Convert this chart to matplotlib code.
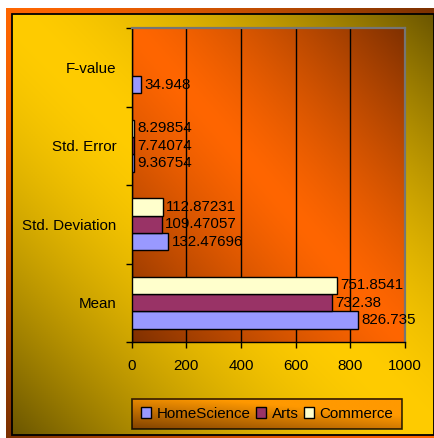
import matplotlib
matplotlib.use("Agg")
import matplotlib.pyplot as plt
import numpy as np
from matplotlib.colors import to_rgb

categories = ["Mean", "Std. Deviation", "Std. Error", "F-value"]
series_names = ["HomeScience", "Arts", "Commerce"]
home_science = [826.735, 132.47696, 9.36754, 34.948]
arts = [732.38, 109.47057, 7.74074, None]
commerce = [751.8541, 112.87231, 8.29854, None]
x_ticks = [0, 200, 400, 600, 800, 1000]

colors = ["#9999FF", "#993366", "#FFFFCC"]

plt.rcParams["font.family"] = ["Liberation Sans", "DejaVu Sans"]
FS = 10.9
W, H = 435, 438


def gradient(light, dark, n=200, mode="diag", power=1.4):
    u, v = np.meshgrid(np.linspace(0, 1, n), np.linspace(0, 1, n))
    if mode == "diag":
        t = np.abs(u - v) ** power
    else:
        t = np.clip(v * 0.8 + (1 - u) * 0.6 - 0.45, 0, 1)
    a = np.array(to_rgb(light))
    b = np.array(to_rgb(dark))
    return a[None, None, :] * (1 - t[..., None]) + b[None, None, :] * t[..., None]


fig = plt.figure(figsize=(W / 100, H / 100), dpi=100)
fig.patch.set_facecolor("white")

# background frame
bg = fig.add_axes([0, 0, 1, 1], zorder=-10)
bg.axis("off")
bg.imshow(gradient("#FF6600", "#7A3000"), extent=[6, W, H, 8], aspect="auto")
bg.imshow(gradient("#FFCC00", "#6B5600", power=1.6), extent=[12, 434, 435, 14], aspect="auto")
bg.add_patch(plt.Rectangle((12, 14), 422, 421, fill=False, edgecolor="black", lw=1.3))
bg.set_xlim(0, W)
bg.set_ylim(H, 0)

# plot area
left, right, top, bottom = 131.7, 405, 28, 342
ax = fig.add_axes([left / W, (H - bottom) / H, (right - left) / W, (bottom - top) / H])
ax.imshow(gradient("#FF6600", "#7F3000", power=1.3), extent=[0, 1, 0, 1],
          transform=ax.transAxes, aspect="auto", zorder=0)

y = np.arange(len(categories))
bar_h = 0.22
offsets = [-bar_h, 0, bar_h]
for vals, off, col, name in zip([home_science, arts, commerce], offsets, colors, series_names):
    ys = [yy + off for yy, v in zip(y, vals) if v is not None]
    vs = [v for v in vals if v is not None]
    ax.barh(ys, vs, height=bar_h, color=col, edgecolor="black", linewidth=1, label=name, zorder=3)
    for yy, v in zip(ys, vs):
        ax.annotate(str(v), xy=(v, yy), xytext=(2.5, 0), textcoords="offset points",
                    va="center", ha="left", fontsize=FS, zorder=5)

ax.set_xlim(0, 1000)
ax.set_ylim(-0.5, len(categories) - 0.5)
ax.set_xticks(x_ticks)
ax.set_xticklabels([str(t) for t in x_ticks], fontsize=FS)
ax.set_yticks(y)
ax.set_yticklabels(categories, fontsize=FS)
ax.set_yticks(np.arange(len(categories) + 1) - 0.5, minor=True)
ax.tick_params(axis="y", which="major", length=0, pad=11)
ax.tick_params(axis="y", which="minor", length=4, direction="out", width=1)
ax.tick_params(axis="x", length=4, direction="out", width=1, pad=8)
ax.grid(axis="x", color="black", lw=1, zorder=1)
ax.set_axisbelow(True)
for s in ["top", "right"]:
    ax.spines[s].set_color("#757575")
    ax.spines[s].set_linewidth(1.6)
for s in ["left", "bottom"]:
    ax.spines[s].set_color("black")
    ax.spines[s].set_linewidth(1)

leg = fig.legend(loc="center", bbox_to_anchor=(267 / W, (H - 414) / H),
                 ncol=3, fontsize=FS, handlelength=0.7, handleheight=0.7,
                 handletextpad=0.35, columnspacing=0.35, borderpad=0.55, frameon=True,
                 fancybox=False, borderaxespad=0)
leg.get_frame().set_facecolor("none")
leg.get_frame().set_edgecolor("black")
leg.get_frame().set_linewidth(1.2)

# legend gradient fill, placed behind the legend frame
fig.canvas.draw()
bb = leg.get_frame().get_window_extent()
bg.imshow(gradient("#FF9900", "#7A3D00", mode="legend"),
          extent=[bb.x0, bb.x1, H - bb.y0, H - bb.y1], aspect="auto", zorder=2)
bg.set_xlim(0, W)
bg.set_ylim(H, 0)

fig.savefig("out.png", dpi=100)
